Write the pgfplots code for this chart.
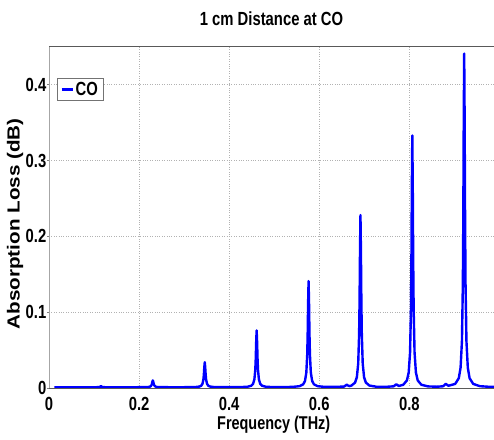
\documentclass[border=0pt]{standalone}
\usepackage{pgfplots}
\pgfplotsset{compat=1.18}
\usepackage{fontspec}
\setmainfont{Liberation Sans}
\newfontfamily\nb{Liberation Sans}[FakeStretch=0.78]
\newfontfamily\yb{Liberation Sans}[FakeStretch=1.18]
\begin{document}
\begin{tikzpicture}
\useasboundingbox (-49pt,-51pt) rectangle (445pt,388pt);
\begin{axis}[
  at={(0pt,0pt)}, anchor=south west,
  scale only axis, width=445pt, height=342pt,
  xmin=0, xmax=0.988, ymin=0, ymax=0.451,
  xtick={0,0.2,0.4,0.6,0.8}, ytick={0,0.1,0.2,0.3,0.4},
  xticklabels={0,0.2,0.4,0.6,0.8}, yticklabels={0,0.1,0.2,0.3,0.4},
  xtick pos=bottom, ytick pos=left,
  xtick style={draw=none},
  ytick style={gray, line width=0.6pt},
  tick align=outside, major tick length=2pt,
  ticklabel style={font=\nb\bfseries\fontsize{19}{19}\selectfont},
  yticklabel style={inner sep=0.5pt},
  xticklabel style={inner sep=1pt, yshift=-6pt},
  axis line style={draw=none},
  grid=major,
  major grid style={dotted, black!30, line width=0.6pt},
  title={1 cm Distance at CO},
  title style={font=\nb\bfseries\fontsize{19}{19}\selectfont, at={(axis description cs:0.5,1.041)}, anchor=base},
  xlabel={Frequency (THz)},
  xlabel style={font=\nb\bfseries\fontsize{18.5}{18.5}\selectfont, at={(axis description cs:0.505,-0.1199)}, anchor=base},
  ylabel={Absorption Loss (dB)},
  ylabel style={font=\yb\bfseries\fontsize{17.5}{17.5}\selectfont, at={(axis description cs:-0.066,0.48)}, anchor=base},
  legend style={at={(0.018,0.906)}, anchor=north west, draw=black!55, line width=0.6pt,
    font=\nb\bfseries\fontsize{19}{19}\selectfont, inner xsep=3pt, inner ysep=1.5pt},
  legend image code/.code={\draw[#1] (0pt,0pt) -- (11pt,0pt);},
]
\addplot[blue, line width=2.4pt, line join=round] coordinates {
(0.012,0.0010) (0.060,0.0010) (0.105,0.0010) (0.1133,0.0015) (0.1153,0.0025) (0.1173,0.0015) (0.125,0.0010) (0.1755,0.0010)
(0.2105,0.0011) (0.2185,0.0012) (0.2225,0.0015) (0.2255,0.0022) (0.2275,0.0038) (0.2285,0.0055) (0.2295,0.0082) (0.2305,0.0100) (0.2315,0.0082) (0.2325,0.0055) (0.2335,0.0038) (0.2355,0.0022) (0.2385,0.0015) (0.2425,0.0012) (0.2505,0.0011) (0.2855,0.0010)
(0.3108,0.0011) (0.3258,0.0013) (0.3338,0.0019) (0.3378,0.0029) (0.3408,0.0056) (0.3428,0.0112) (0.3438,0.0175) (0.3448,0.0274) (0.3458,0.0340) (0.3468,0.0274) (0.3478,0.0175) (0.3488,0.0112) (0.3508,0.0056) (0.3538,0.0029) (0.3578,0.0019) (0.3658,0.0013) (0.3808,0.0011)
(0.4060,0.0011) (0.4260,0.0012) (0.4410,0.0017) (0.4490,0.0030) (0.4530,0.0054) (0.4560,0.0114) (0.4580,0.0241) (0.4590,0.0385) (0.4600,0.0610) (0.4610,0.0760) (0.4620,0.0610) (0.4630,0.0385) (0.4640,0.0241) (0.4660,0.0114) (0.4690,0.0054) (0.4730,0.0030) (0.4810,0.0017) (0.4960,0.0012) (0.5160,0.0011)
(0.5413,0.0015) (0.5563,0.0024) (0.5643,0.0048) (0.5683,0.0092) (0.5713,0.0203) (0.5733,0.0441) (0.5743,0.0710) (0.5753,0.1130) (0.5763,0.1410) (0.5773,0.1130) (0.5783,0.0710) (0.5793,0.0441) (0.5813,0.0203) (0.5843,0.0092) (0.5883,0.0048) (0.5963,0.0024) (0.6113,0.0015) (0.6365,0.0015)
(0.6550,0.0019) (0.6590,0.0035) (0.6610,0.0045) (0.6630,0.0035) (0.6670,0.0025)
(0.6715,0.0032) (0.6795,0.0071) (0.6835,0.0143) (0.6865,0.0323) (0.6885,0.0708) (0.6895,0.1145) (0.6905,0.1826) (0.6915,0.2280) (0.6925,0.1826) (0.6935,0.1145) (0.6945,0.0708) (0.6965,0.0323) (0.6995,0.0143) (0.7035,0.0071) (0.7115,0.0032) (0.7265,0.0017) (0.7465,0.0015)
(0.7650,0.0022) (0.7690,0.0040) (0.7710,0.0050) (0.7730,0.0040) (0.7770,0.0027)
(0.7866,0.0043) (0.7946,0.0100) (0.7986,0.0205) (0.8016,0.0468) (0.8036,0.1032) (0.8046,0.1670) (0.8056,0.2666) (0.8066,0.3330) (0.8076,0.2666) (0.8086,0.1670) (0.8096,0.1032) (0.8116,0.0468) (0.8146,0.0205) (0.8186,0.0100) (0.8266,0.0043) (0.8416,0.0021) (0.8616,0.0017)
(0.8750,0.0023) (0.8790,0.0045) (0.8810,0.0055) (0.8830,0.0045) (0.8870,0.0030)
(0.9018,0.0054) (0.9098,0.0129) (0.9138,0.0269) (0.9168,0.0617) (0.9188,0.1364) (0.9198,0.2210) (0.9208,0.3530) (0.9218,0.4410) (0.9228,0.3530) (0.9238,0.2210) (0.9248,0.1364) (0.9268,0.0617) (0.9298,0.0269) (0.9338,0.0129) (0.9418,0.0054) (0.9568,0.0024) (0.9768,0.0016) (0.9950,0.0013)
};
\addlegendentry{CO}
\draw[black!35, line width=1.2pt] (rel axis cs:0,0) -- (rel axis cs:0,1);
\draw[black!65, line width=0.8pt] (rel axis cs:0,0) -- (rel axis cs:1,0);
\draw[black!65, line width=0.8pt] (rel axis cs:0,1) -- (rel axis cs:1,1);
\end{axis}
\end{tikzpicture}
\end{document}
